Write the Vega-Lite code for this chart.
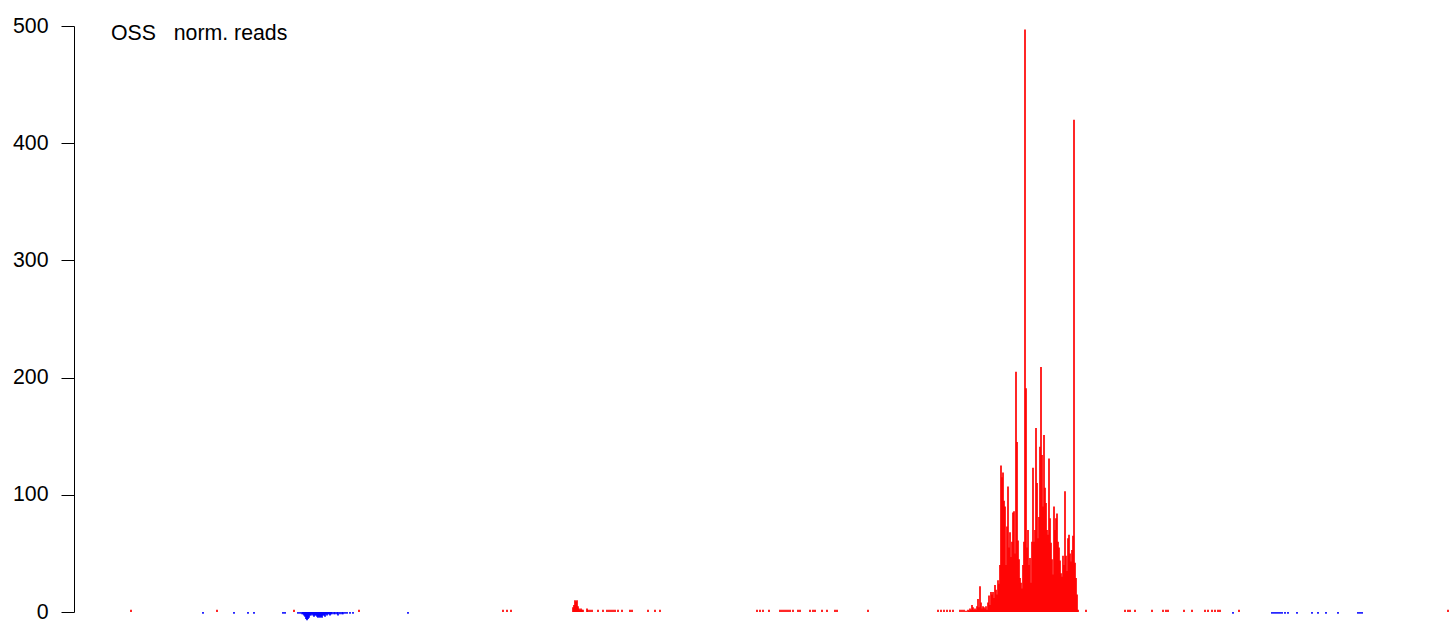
{
"$schema": "https://vega.github.io/schema/vega-lite/v6.json",
"width": 1380, "height": 586,
"autosize": {"type": "none"},
"padding": {"left": 74, "top": 26, "right": 0, "bottom": 22},
"background": "white",
"config": {"view": {"stroke": null}, "font": "Liberation Sans"},
"title": {"text": "OSS\u00a0\u00a0\u00a0norm. reads", "anchor": "start", "frame": "group", "fontSize": 21.3, "fontWeight": "normal", "font": "Liberation Sans", "color": "black", "offset": -29, "dx": 37},
"datasets": {
"plus": [
{"pos":131,"val":2},{"pos":217,"val":2},{"pos":294,"val":2},{"pos":359,"val":2},{"pos":503,"val":2},{"pos":507,"val":2},{"pos":511,"val":2},
{"pos":573,"val":4},{"pos":574,"val":6},{"pos":575,"val":10},{"pos":576,"val":9},{"pos":577,"val":10},{"pos":578,"val":5},{"pos":579,"val":3},{"pos":580,"val":2},{"pos":581,"val":3},{"pos":582,"val":2},{"pos":583,"val":2},{"pos":587,"val":3},{"pos":588,"val":2},{"pos":590,"val":2},{"pos":592,"val":2},{"pos":598,"val":2},{"pos":603,"val":2},{"pos":607,"val":2},{"pos":609,"val":2},{"pos":611,"val":2},{"pos":613,"val":2},{"pos":615,"val":2},{"pos":618,"val":2},{"pos":622,"val":2},{"pos":630,"val":2},{"pos":632,"val":2},{"pos":648,"val":2},{"pos":655,"val":2},{"pos":660,"val":2},
{"pos":757,"val":2},{"pos":760,"val":2},{"pos":763,"val":2},{"pos":769,"val":2},{"pos":780,"val":2},{"pos":782,"val":2},{"pos":784,"val":2},{"pos":786,"val":2},{"pos":788,"val":2},{"pos":790,"val":2},{"pos":793,"val":2},{"pos":798,"val":2},{"pos":800,"val":2},{"pos":810,"val":2},{"pos":813,"val":2},{"pos":815,"val":2},{"pos":822,"val":2},{"pos":827,"val":2},{"pos":835,"val":2},{"pos":837,"val":2},{"pos":868,"val":2},{"pos":938,"val":2},{"pos":941,"val":2},{"pos":944,"val":2},{"pos":947,"val":2},{"pos":950,"val":2},{"pos":953,"val":2},{"pos":960,"val":2},{"pos":962,"val":2},{"pos":964,"val":2},
{"pos":966,"val":1},{"pos":968,"val":2},{"pos":969,"val":1},{"pos":970,"val":3},{"pos":971,"val":2},{"pos":972,"val":6},{"pos":973,"val":4},{"pos":974,"val":2},{"pos":975,"val":3},{"pos":976,"val":2},{"pos":977,"val":5},{"pos":978,"val":11},{"pos":979,"val":4},{"pos":980,"val":22},{"pos":981,"val":8},{"pos":982,"val":3},{"pos":983,"val":5},{"pos":984,"val":4},{"pos":985,"val":3},{"pos":986,"val":5},{"pos":987,"val":2},{"pos":988,"val":8},{"pos":989,"val":14},
{"pos":990,"val":6},{"pos":991,"val":17},{"pos":992,"val":15},{"pos":993,"val":17},{"pos":994,"val":12},{"pos":995,"val":23},{"pos":996,"val":19},{"pos":997,"val":15},{"pos":998,"val":27},{"pos":999,"val":24},
{"pos":1000,"val":40},{"pos":1001,"val":125},{"pos":1002,"val":115},{"pos":1003,"val":119},{"pos":1004,"val":95},{"pos":1005,"val":90},{"pos":1006,"val":40},{"pos":1007,"val":73},{"pos":1008,"val":107},{"pos":1009,"val":55},
{"pos":1010,"val":68},{"pos":1011,"val":47},{"pos":1012,"val":60},{"pos":1013,"val":85},{"pos":1014,"val":86},{"pos":1015,"val":50},{"pos":1016,"val":205},{"pos":1017,"val":145},{"pos":1018,"val":61},{"pos":1019,"val":45},
{"pos":1020,"val":29},{"pos":1021,"val":25},{"pos":1022,"val":20},{"pos":1023,"val":40},{"pos":1024,"val":60},{"pos":1025,"val":497},{"pos":1026,"val":191},{"pos":1027,"val":55},{"pos":1028,"val":70},{"pos":1029,"val":40},
{"pos":1030,"val":46},{"pos":1031,"val":25},{"pos":1032,"val":60},{"pos":1033,"val":123},{"pos":1034,"val":60},{"pos":1035,"val":70},{"pos":1036,"val":157},{"pos":1037,"val":110},{"pos":1038,"val":63},{"pos":1039,"val":81},
{"pos":1040,"val":141},{"pos":1041,"val":209},{"pos":1042,"val":134},{"pos":1043,"val":90},{"pos":1044,"val":151},{"pos":1045,"val":106},{"pos":1046,"val":93},{"pos":1047,"val":70},{"pos":1048,"val":66},{"pos":1049,"val":131},
{"pos":1050,"val":80},{"pos":1051,"val":59},{"pos":1052,"val":45},{"pos":1053,"val":32},{"pos":1054,"val":90},{"pos":1055,"val":70},{"pos":1056,"val":80},{"pos":1057,"val":84},{"pos":1058,"val":60},{"pos":1059,"val":55},
{"pos":1060,"val":44},{"pos":1061,"val":33},{"pos":1062,"val":30},{"pos":1063,"val":48},{"pos":1064,"val":40},{"pos":1065,"val":103},{"pos":1066,"val":48},{"pos":1067,"val":35},{"pos":1068,"val":63},{"pos":1069,"val":66},
{"pos":1070,"val":50},{"pos":1071,"val":43},{"pos":1072,"val":53},{"pos":1073,"val":65},{"pos":1074,"val":420},{"pos":1075,"val":42},{"pos":1076,"val":29},{"pos":1077,"val":15},{"pos":1078,"val":2},
{"pos":1086,"val":2},{"pos":1125,"val":2},{"pos":1128,"val":2},{"pos":1130,"val":2},{"pos":1135,"val":2},{"pos":1152,"val":2},{"pos":1163,"val":2},{"pos":1166,"val":2},{"pos":1168,"val":2},{"pos":1184,"val":2},{"pos":1192,"val":2},{"pos":1205,"val":2},{"pos":1208,"val":2},{"pos":1212,"val":2},{"pos":1215,"val":2},{"pos":1218,"val":2},{"pos":1220,"val":2},{"pos":1239,"val":2},{"pos":1448,"val":2}
],
"minus": [
{"pos":203,"val":-1.5},{"pos":234,"val":-1.5},{"pos":248,"val":-1.5},{"pos":254,"val":-1.5},{"pos":283,"val":-1.5},{"pos":285,"val":-1.5},
{"pos":298,"val":-1.5},{"pos":300,"val":-1.5},{"pos":302,"val":-2},{"pos":303,"val":-2},{"pos":304,"val":-3},{"pos":305,"val":-4},{"pos":306,"val":-6},{"pos":307,"val":-7},{"pos":308,"val":-6},{"pos":309,"val":-5},{"pos":310,"val":-3},{"pos":311,"val":-3},{"pos":312,"val":-2},{"pos":313,"val":-3},{"pos":314,"val":-4},{"pos":315,"val":-3},{"pos":316,"val":-3},{"pos":317,"val":-4},{"pos":318,"val":-5},{"pos":319,"val":-4},{"pos":320,"val":-5},{"pos":321,"val":-4},{"pos":322,"val":-5},{"pos":323,"val":-3},{"pos":324,"val":-3},{"pos":325,"val":-4},{"pos":326,"val":-2},{"pos":327,"val":-3},{"pos":328,"val":-2},{"pos":329,"val":-2},{"pos":330,"val":-3},{"pos":331,"val":-2},{"pos":332,"val":-2},{"pos":334,"val":-2},{"pos":335,"val":-2},{"pos":337,"val":-2},{"pos":338,"val":-3},{"pos":340,"val":-2},{"pos":342,"val":-2},{"pos":343,"val":-2},{"pos":345,"val":-1.5},{"pos":347,"val":-1.5},{"pos":350,"val":-1.5},{"pos":353,"val":-1.5},{"pos":408,"val":-1.5},
{"pos":1233,"val":-1.5},{"pos":1272,"val":-1.5},{"pos":1274,"val":-1.5},{"pos":1276,"val":-1.5},{"pos":1278,"val":-1.5},{"pos":1280,"val":-1.5},{"pos":1282,"val":-1.5},{"pos":1285,"val":-1.5},{"pos":1288,"val":-1.5},{"pos":1297,"val":-1.5},{"pos":1312,"val":-1.5},{"pos":1318,"val":-1.5},{"pos":1326,"val":-1.5},{"pos":1338,"val":-1.5},{"pos":1358,"val":-1.5},{"pos":1360,"val":-1.5},{"pos":1362,"val":-1.5}
]
},
"layer": [
{
"data": {"name": "plus"},
"mark": {"type": "rule", "strokeWidth": 1.7, "color": "#ff0000", "opacity": 1},
"encoding": {
"x": {"field": "pos", "type": "quantitative", "scale": {"domain": [74, 1454], "nice": false, "zero": false}, "axis": null},
"y": {"field": "val", "type": "quantitative", "scale": {"domain": [0, 500], "nice": false}, "axis": {"values": [0, 100, 200, 300, 400, 500], "tickSize": 13, "labelFontSize": 21.3, "labelPadding": 13, "grid": false, "title": null, "domainColor": "black", "tickColor": "black", "labelColor": "black", "labelFont": "Liberation Sans", "domainWidth": 1, "tickWidth": 1}},
"y2": {"datum": 0}
}
},
{
"data": {"name": "minus"},
"mark": {"type": "rule", "strokeWidth": 1.7, "color": "#0000ff", "opacity": 1},
"encoding": {
"x": {"field": "pos", "type": "quantitative"},
"y": {"field": "val", "type": "quantitative"},
"y2": {"datum": 0}
}
}
]
}
